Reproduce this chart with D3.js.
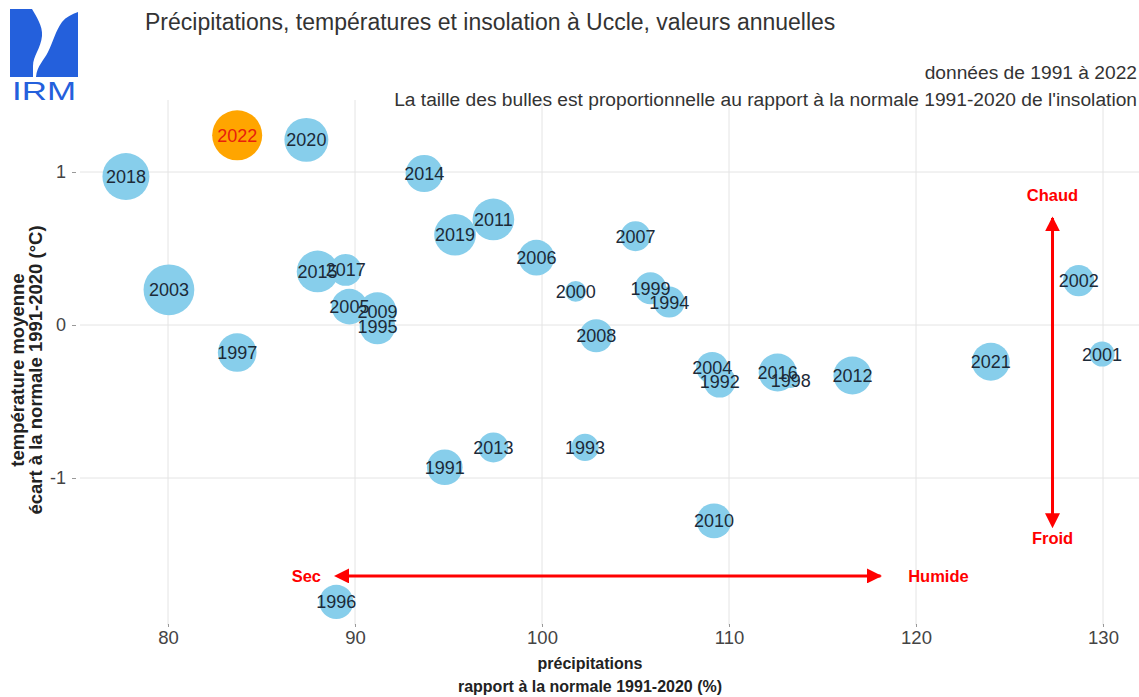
<!DOCTYPE html>
<html>
<head>
<meta charset="utf-8">
<script src="https://cdn.jsdelivr.net/npm/d3@7"></script>
<style>
  body { margin: 0; background: #fff; }
  text { font-family: "Liberation Sans", Arial, sans-serif; }
</style>
</head>
<body>
<svg id="chart" width="1139" height="697"></svg>
<script>
// annual values, Uccle 1991-2022
const years  = [2022, 2020, 2018, 2014, 2011, 2019, 2006, 2007, 2000, 1999, 1994, 2015, 2017, 2003, 2005, 2009,
                1995, 1997, 2008, 2004, 1992, 2016, 1998, 2012, 2021, 2001, 2002, 2013, 1993, 1991, 2010, 1996];
// precipitation, % of normal 1991-2020
const precip = [83.7, 87.4, 77.75, 93.7, 97.4, 95.35, 99.7, 105.0, 101.8, 105.8, 106.8, 88.0, 89.5, 80.05, 89.7, 91.2,
                91.2, 83.7, 102.9, 109.1, 109.5, 112.6, 113.3, 116.6, 124.0, 129.95, 128.7, 97.4, 102.3, 94.8, 109.2, 89.0];
// mean temperature, anomaly vs 1991-2020 (°C)
const temp   = [1.24, 1.21, 0.97, 0.99, 0.69, 0.59, 0.44, 0.58, 0.22, 0.24, 0.15, 0.35, 0.36, 0.23, 0.12, 0.09,
                -0.01, -0.18, -0.07, -0.28, -0.37, -0.31, -0.36, -0.33, -0.24, -0.19, 0.29, -0.80, -0.80, -0.93, -1.28, -1.81];
// sunshine duration, % of normal 1991-2020 (bubble size)
const sun    = [125, 117, 121, 108, 114, 114, 106, 98.5, 86.5, 101, 100, 114, 101, 126, 106, 109,
                106, 110, 102.5, 101, 101, 109, 80, 109, 109, 92, 100, 98.5, 95, 106, 105, 104];

const xTicks = [80, 90, 100, 110, 120, 130];
const yTicks = [-1, 0, 1];

const title = "Précipitations, températures et insolation à Uccle, valeurs annuelles";
const subtitle = ["données de 1991 à 2022",
  "La taille des bulles est proportionnelle au rapport à la normale 1991-2020 de l'insolation"];

const svg = d3.select('#chart');
const panel = {left: 80, right: 1139, top: 100, bottom: 625};

const x = d3.scaleLinear().domain([80, 130]).range([168, 1103]);
const y = d3.scaleLinear().domain([-1, 1]).range([478, 172]);
const r = d3.scaleLinear().domain([80, 125]).range([8, 25]);

const data = years.map((yr, i) => ({year: yr, p: precip[i], t: temp[i], s: sun[i]}));

// grid
svg.append('g')
  .selectAll('line').data(xTicks).join('line')
  .attr('x1', d => x(d)).attr('x2', d => x(d))
  .attr('y1', panel.top).attr('y2', panel.bottom)
  .attr('stroke', '#e4e4e4').attr('stroke-width', 1);
svg.append('g')
  .selectAll('line').data(yTicks).join('line')
  .attr('y1', d => y(d)).attr('y2', d => y(d))
  .attr('x1', panel.left).attr('x2', panel.right)
  .attr('stroke', '#e4e4e4').attr('stroke-width', 1);

// axes
const xAxis = svg.append('g')
  .attr('transform', 'translate(0,' + (panel.bottom - 1) + ')')
  .call(d3.axisBottom(x).tickValues(xTicks).tickSize(3).tickPadding(4).tickFormat(d => String(d)));
xAxis.select('.domain').remove();
xAxis.selectAll('line').attr('stroke', '#999');
xAxis.selectAll('text').attr('font-size', 18.5).attr('fill', '#444');

const yAxis = svg.append('g')
  .attr('transform', 'translate(' + (panel.left - 4) + ',0)')
  .call(d3.axisLeft(y).tickValues(yTicks).tickSize(4).tickPadding(6).tickFormat(d => String(d)));
yAxis.select('.domain').remove();
yAxis.selectAll('line').attr('stroke', '#999');
yAxis.selectAll('text').attr('font-size', 18).attr('fill', '#444');

// bubbles
svg.append('g')
  .selectAll('circle').data(data).join('circle')
  .attr('cx', d => x(d.p)).attr('cy', d => y(d.t)).attr('r', d => r(d.s))
  .attr('fill', d => d.year === 2022 ? '#ffa500' : '#87ceeb');

svg.append('g')
  .selectAll('text').data(data).join('text')
  .attr('x', d => x(d.p)).attr('y', d => y(d.t))
  .attr('dy', '0.36em')
  .attr('text-anchor', 'middle')
  .attr('font-size', 18)
  .attr('fill', d => d.year === 2022 ? '#e8200c' : '#1c2a38')
  .text(d => d.year);

// arrows
const defs = svg.append('defs');
['start', 'end'].forEach(k => {
  defs.append('marker')
    .attr('id', 'arr-' + k)
    .attr('viewBox', '0 0 10 10').attr('refX', k === 'end' ? 9 : 1).attr('refY', 5)
    .attr('markerWidth', 5).attr('markerHeight', 5)
    .attr('orient', k === 'end' ? 'auto' : 'auto-start-reverse')
    .append('path').attr('d', 'M0,0 L10,5 L0,10 Z').attr('fill', '#f00');
});
function arrow(x1, y1, x2, y2) {
  svg.append('line')
    .attr('x1', x(x1)).attr('y1', y(y1)).attr('x2', x(x2)).attr('y2', y(y2))
    .attr('stroke', '#f00').attr('stroke-width', 3)
    .attr('marker-start', 'url(#arr-start)').attr('marker-end', 'url(#arr-end)');
}
arrow(127.3, -1.24, 127.3, 0.70);
arrow(89.6, -1.64, 118.1, -1.64);

const redLabels = [
  {txt: 'Chaud', p: 127.3, t: 0.85},
  {txt: 'Froid', p: 127.3, t: -1.39},
  {txt: 'Sec', p: 87.4, t: -1.64},
  {txt: 'Humide', p: 121.2, t: -1.64}
];
svg.append('g').selectAll('text').data(redLabels).join('text')
  .attr('x', d => x(d.p)).attr('y', d => y(d.t)).attr('dy', '0.36em')
  .attr('text-anchor', 'middle').attr('font-size', 16.5).attr('font-weight', 'bold')
  .attr('fill', '#f00').text(d => d.txt);

// axis titles
svg.append('text').attr('x', 590).attr('y', 669).attr('text-anchor', 'middle')
  .attr('font-size', 16).attr('font-weight', 'bold').attr('fill', '#222').text('précipitations');
svg.append('text').attr('x', 590).attr('y', 692).attr('text-anchor', 'middle')
  .attr('font-size', 16).attr('font-weight', 'bold').attr('fill', '#222').text('rapport à la normale 1991-2020 (%)');

const yt = svg.append('text').attr('transform', 'translate(0,370) rotate(-90)')
  .attr('text-anchor', 'middle').attr('font-size', 18.5).attr('font-weight', 'bold').attr('fill', '#222');
yt.append('tspan').attr('x', 0).attr('y', 24).text('température moyenne');
yt.append('tspan').attr('x', 0).attr('y', 42).text('écart à la normale 1991-2020 (°C)');

// titles
svg.append('text').attr('x', 145).attr('y', 30).attr('font-size', 23).attr('fill', '#333').text(title);
svg.selectAll('text.sub').data(subtitle).join('text')
  .attr('class', 'sub')
  .attr('x', 1137).attr('y', (d, i) => 79 + i * 27)
  .attr('text-anchor', 'end').attr('font-size', 19.2).attr('fill', '#333').text(d => d);

// IRM logo
const logo = svg.append('g').attr('fill', '#2460dc');
logo.append('path')
  .attr('d', 'M10,9 L32,9 C36,16 43,26 42,36 C41,48 33,56 33,66 L33,77 L10,77 Z');
logo.append('path')
  .attr('d', 'M36,77 C37,66 44,60 48,52 C53,42 56,30 62,22 C66,17 72,14 78,12 L78,77 Z');
logo.append('text').attr('x', 12).attr('y', 100).attr('font-size', 25)
  .attr('textLength', 64).attr('lengthAdjust', 'spacingAndGlyphs').text('IRM');
</script>
</body>
</html>
